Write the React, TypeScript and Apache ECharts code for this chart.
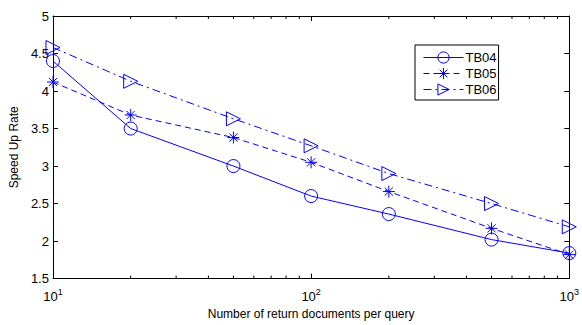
import React, { useEffect, useRef } from "react";
import * as echarts from "echarts";

const docs = [10, 20, 50, 100, 200, 500, 1000];
const tb04 = [4.40, 3.50, 3.00, 2.60, 2.36, 2.02, 1.84];
const tb05 = [4.12, 3.68, 3.38, 3.05, 2.66, 2.17, 1.82];
const tb06 = [4.58, 4.13, 3.63, 3.27, 2.90, 2.50, 2.19];
const minorTicks = [20, 30, 40, 50, 60, 70, 80, 90, 200, 300, 400, 500, 600, 700, 800, 900];

const BLUE = "#0000ff";
const FONT = "Liberation Sans";

const asterisk = "path://M5,0 L5,10 M0,5 L10,5 M1.6,1.6 L8.4,8.4 M1.6,8.4 L8.4,1.6";
const triRight = "path://M0,0 L10,5 L0,10 Z";

export default function App() {
  const ref = useRef<HTMLDivElement>(null);
  useEffect(() => {
    const chart = echarts.init(ref.current!, null, { renderer: "svg" });
    const mk = (name: string, vals: number[], symbol: string, size: number, type: any) => ({
      name,
      type: "line",
      xAxisIndex: 0,
      yAxisIndex: 0,
      data: docs.map((d, i) => [d, vals[i]]),
      symbol,
      symbolSize: size,
      showAllSymbol: true,
      lineStyle: { color: BLUE, width: 1, type },
      itemStyle: { color: "rgba(0,0,0,0)", borderColor: BLUE, borderWidth: 1 },
      z: 3,
    });
    chart.setOption({
      animation: false,
      textStyle: { fontFamily: FONT },
      grid: { left: 50, right: 11, top: 16, bottom: 38 },
      legend: {
        data: ["TB04", "TB05", "TB06"],
        orient: "vertical",
        left: 415,
        top: 45,
        padding: [6, 2, 4, 8],
        itemGap: 3,
        itemWidth: 40,
        itemHeight: 14,
        backgroundColor: "#fff",
        borderColor: "#000",
        borderWidth: 1,
        borderRadius: 0,
        lineStyle: { width: 1 },
        itemStyle: { borderWidth: 1 },
        textStyle: { fontFamily: FONT, fontSize: 13, color: "#000", padding: [0, 0, 0, -3] },
      },
      xAxis: [
        {
          type: "log",
          logBase: 10,
          min: 10,
          max: 1000,
          position: "bottom",
          name: "Number of return documents per query",
          nameLocation: "middle",
          nameGap: 24,
          nameTextStyle: { fontFamily: FONT, fontSize: 12, color: "#000" },
          axisLine: { show: true, lineStyle: { color: "#000", width: 1 } },
          axisTick: { show: true, inside: true, length: 5, lineStyle: { color: "#000" } },
          splitLine: { show: false },
          axisLabel: {
            color: "#000",
            fontFamily: FONT,
            fontSize: 13,
            margin: 9,
            formatter: (v: number) => "10{s|" + Math.round(Math.log10(v)) + "}",
            rich: { s: { fontSize: 9, fontFamily: FONT, color: "#000", padding: [0, 0, 9, 0] } },
          },
        },
        {
          type: "log",
          logBase: 10,
          min: 10,
          max: 1000,
          position: "top",
          axisLine: { show: true, lineStyle: { color: "#000", width: 1 } },
          axisTick: { show: true, inside: true, length: 5, lineStyle: { color: "#000" } },
          splitLine: { show: false },
          axisLabel: { show: false },
        },
      ],
      yAxis: [
        {
          type: "value",
          min: 1.5,
          max: 5,
          interval: 0.5,
          position: "left",
          name: "Speed Up Rate",
          nameLocation: "middle",
          nameGap: 30,
          nameTextStyle: { fontFamily: FONT, fontSize: 12, color: "#000" },
          axisLine: { show: true, lineStyle: { color: "#000", width: 1 } },
          axisTick: { show: true, inside: true, length: 5, lineStyle: { color: "#000" } },
          splitLine: { show: false },
          axisLabel: { color: "#000", fontFamily: FONT, fontSize: 13, margin: 4 },
        },
        {
          type: "value",
          min: 1.5,
          max: 5,
          interval: 0.5,
          position: "right",
          axisLine: { show: true, lineStyle: { color: "#000", width: 1 } },
          axisTick: { show: true, inside: true, length: 5, lineStyle: { color: "#000" } },
          splitLine: { show: false },
          axisLabel: { show: false },
        },
      ],
      series: [
        mk("TB04", tb04, "circle", 13, "solid"),
        mk("TB05", tb05, asterisk, 12, [6, 4]),
        mk("TB06", tb06, triRight, 14, [8, 4, 2, 4]),
        {
          name: "minor",
          type: "custom",
          xAxisIndex: 0,
          yAxisIndex: 0,
          silent: true,
          data: minorTicks.map((v) => [v, 1.5]),
          renderItem: (params: any, api: any) => {
            const x = api.value(0);
            const b = api.coord([x, 1.5]);
            const t = api.coord([x, 5]);
            const st = { stroke: "#000", lineWidth: 1 };
            return {
              type: "group",
              children: [
                { type: "line", shape: { x1: b[0], y1: b[1], x2: b[0], y2: b[1] - 3 }, style: st },
                { type: "line", shape: { x1: t[0], y1: t[1], x2: t[0], y2: t[1] + 3 }, style: st },
              ],
            };
          },
          z: 2,
        },
      ],
    });
    return () => chart.dispose();
  }, []);
  return <div ref={ref} style={{ width: 582, height: 325, position: "absolute", left: 0, top: 0 }} />;
}
